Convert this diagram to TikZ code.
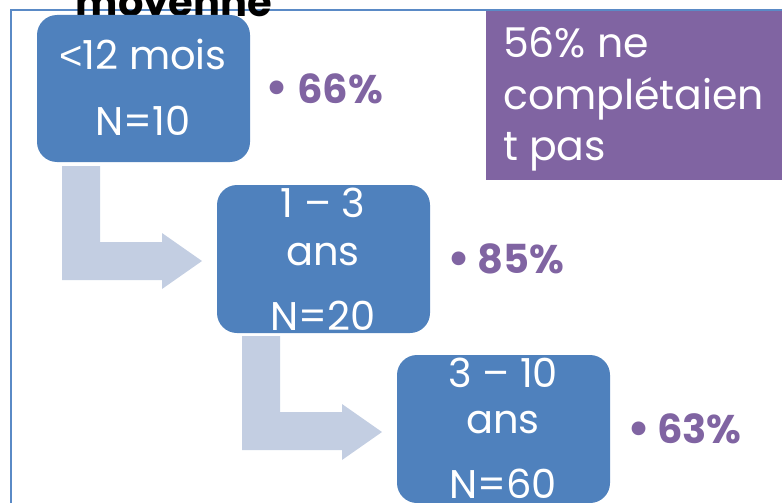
\documentclass[tikz,border=0pt]{standalone}
\usepackage{fontspec}
\setmainfont{Poppins}
\newfontfamily\ltfont{Liberation Sans}
\definecolor{boxblue}{HTML}{4F81BD}
\definecolor{framebl}{HTML}{5A8AC6}
\definecolor{purp}{HTML}{8064A2}
\definecolor{arrowc}{HTML}{C3CEE2}
\tikzset{
  agebox/.style={fill=boxblue, rounded corners=20pt, inner sep=0pt, outer sep=0pt, anchor=north west},
  boxtext/.style={text=white, font=\fontsize{40}{40}\selectfont, anchor=base, inner sep=0pt},
  pct/.style={text=purp, font=\bfseries\fontsize{40}{40}\selectfont, anchor=base west, inner sep=0pt},
  bul/.style={text=purp, font=\fontsize{56}{56}\selectfont, anchor=center, inner sep=0pt},
  bentarrow/.style={fill=arrowc, draw=none},
  purpletext/.style={text=white, font=\fontsize{41}{41}\selectfont, anchor=base west, inner sep=0pt}
}
\begin{document}
\begin{tikzpicture}[x=1pt,y=-1pt]
\useasboundingbox (0,0) rectangle (782,503);
\clip (0,0) rectangle (782,503);
% frame
\draw[framebl, line width=1.6pt] (11,503) -- (11,10) -- (782,10);
% title (clipped)
\node[anchor=base, inner sep=0pt, font=\bfseries\fontsize{40}{40}\selectfont] (title) at (174,17) {moyenne};
% purple box
\node[fill=purp, anchor=north west, minimum width=296pt, minimum height=169pt, inner sep=0pt, outer sep=0pt] (pbox) at (486,11) {};
\node[purpletext] (p1) at (503,58) {56\% ne};
\node[purpletext] (p2) at (503,110) {complétaien};
\node[purpletext] (p3) at (503,160) {t pas};
% arrows
\fill[bentarrow] (62,166) -- (100,166) -- (100,242) -- (162,242) -- (162,233) -- (202,261) -- (162,289) -- (162,280) -- (62,280) -- cycle;
\fill[bentarrow] (242,336) -- (280,336) -- (280,412) -- (342,412) -- (342,404) -- (382,432) -- (342,460) -- (342,450) -- (242,450) -- cycle;
% boxes
\node[agebox, minimum width=213pt, minimum height=147pt] (b1) at (37,15) {};
\node[agebox, minimum width=213pt, minimum height=148pt] (b2) at (217,185) {};
\node[agebox, minimum width=213pt, minimum height=148pt] (b3) at (397,355) {};
% box texts
\node[boxtext] (t11) at (143,70) {{\ltfont <}12 mois};
\node[boxtext] (t12) at (143,135) {N=10};
\node[boxtext] (t21) at (323,217) {1 – 3};
\node[boxtext] (t22) at (323,265) {ans};
\node[boxtext] (t23) at (323,330) {N=20};
\node[boxtext] (t31) at (503,387) {3 – 10};
\node[boxtext] (t32) at (503,433) {ans};
\node[boxtext] (t33) at (503,498) {N=60};
% percentages
\node[bul] (u1) at (277,94) {•};
\node[pct] (q1) at (297,103) {66\%};
\node[bul] (u2) at (459,265) {•};
\node[pct] (q2) at (477,273) {85\%};
\node[bul] (u3) at (639,435) {•};
\node[pct] (q3) at (657,443) {63\%};
\end{tikzpicture}
\end{document}
